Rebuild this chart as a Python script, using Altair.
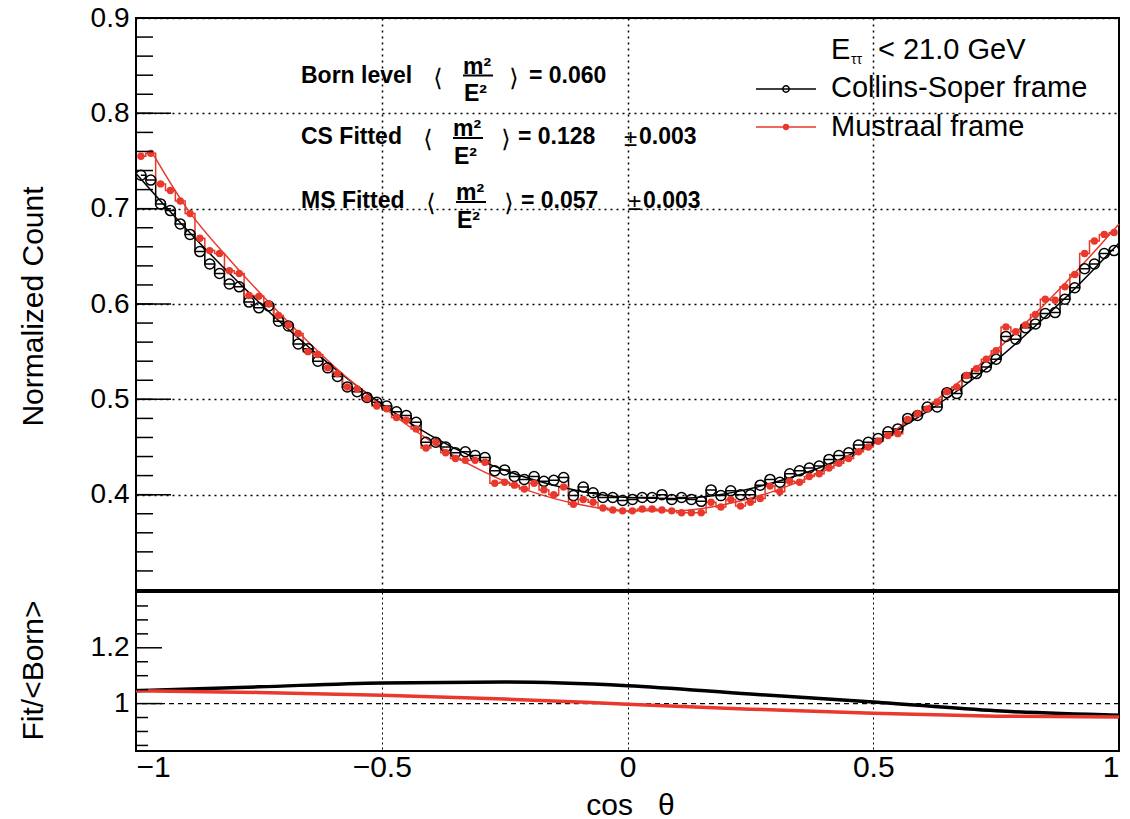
import altair as alt
import pandas as pd

# ---------------- data ----------------
n_bins = 100
cos_theta = [round(-0.99 + 0.02 * i, 2) for i in range(n_bins)]  # bin centres

cs_counts = [
    0.735, 0.730, 0.705, 0.698, 0.684, 0.673, 0.655, 0.642, 0.632, 0.621,
    0.618, 0.602, 0.596, 0.598, 0.582, 0.577, 0.558, 0.553, 0.540, 0.533,
    0.524, 0.513, 0.508, 0.502, 0.497, 0.493, 0.487, 0.483, 0.476, 0.455,
    0.455, 0.450, 0.444, 0.445, 0.441, 0.439, 0.425, 0.426, 0.419, 0.416,
    0.419, 0.414, 0.415, 0.418, 0.399, 0.408, 0.402, 0.397, 0.397, 0.394,
    0.395, 0.397, 0.397, 0.400, 0.395, 0.397, 0.395, 0.393, 0.405, 0.399,
    0.404, 0.400, 0.400, 0.410, 0.416, 0.413, 0.422, 0.425, 0.428, 0.430,
    0.437, 0.441, 0.444, 0.452, 0.455, 0.459, 0.466, 0.469, 0.480, 0.483,
    0.492, 0.492, 0.507, 0.506, 0.523, 0.527, 0.534, 0.542, 0.566, 0.563,
    0.575, 0.579, 0.590, 0.591, 0.605, 0.617, 0.637, 0.642, 0.653, 0.656,
]
ms_counts = [
    0.755, 0.758, 0.726, 0.719, 0.708, 0.695, 0.669, 0.656, 0.653, 0.635,
    0.632, 0.609, 0.608, 0.600, 0.588, 0.578, 0.569, 0.550, 0.547, 0.533,
    0.527, 0.513, 0.511, 0.501, 0.493, 0.490, 0.481, 0.478, 0.469, 0.449,
    0.455, 0.444, 0.438, 0.436, 0.436, 0.434, 0.412, 0.413, 0.410, 0.406,
    0.412, 0.405, 0.400, 0.408, 0.390, 0.395, 0.392, 0.386, 0.384, 0.383,
    0.383, 0.385, 0.385, 0.384, 0.383, 0.381, 0.381, 0.381, 0.392, 0.387,
    0.395, 0.388, 0.392, 0.396, 0.409, 0.403, 0.414, 0.413, 0.419, 0.422,
    0.428, 0.433, 0.438, 0.445, 0.450, 0.456, 0.462, 0.464, 0.479, 0.485,
    0.490, 0.497, 0.508, 0.513, 0.525, 0.532, 0.542, 0.551, 0.576, 0.571,
    0.578, 0.589, 0.605, 0.604, 0.618, 0.631, 0.653, 0.666, 0.673, 0.675,
]

cs_fit_x = [-1.0, -0.9, -0.8, -0.7, -0.6, -0.5, -0.4, -0.3, -0.2, -0.1, 0.0,
            0.1, 0.2, 0.3, 0.4, 0.5, 0.6, 0.7, 0.8, 0.9, 1.0]
cs_fit = [0.737, 0.680, 0.627, 0.578, 0.534, 0.495, 0.462, 0.436, 0.417, 0.404, 0.397,
          0.396, 0.401, 0.413, 0.430, 0.454, 0.484, 0.520, 0.563, 0.611, 0.664]
ms_fit_x = [-0.965, -0.9, -0.8, -0.7, -0.6, -0.5, -0.4, -0.3, -0.2, -0.1, 0.0,
            0.1, 0.2, 0.3, 0.4, 0.5, 0.6, 0.7, 0.8, 0.9, 1.0]
ms_fit = [0.757, 0.703, 0.641, 0.586, 0.536, 0.493, 0.456, 0.426, 0.404, 0.390, 0.383,
          0.383, 0.390, 0.404, 0.425, 0.453, 0.488, 0.529, 0.575, 0.627, 0.684]

ratio_x = [-1.0, -0.75, -0.5, -0.25, 0.0, 0.25, 0.5, 0.75, 1.0]
cs_ratio = [1.046, 1.060, 1.074, 1.077, 1.064, 1.034, 1.006, 0.974, 0.958]
ms_ratio = [1.046, 1.040, 1.030, 1.016, 0.998, 0.980, 0.965, 0.955, 0.952]

x_tick_values = [-1, -0.5, 0, 0.5, 1]
x_grid_values = [-0.5, 0, 0.5]
top_y_labels = [0.4, 0.5, 0.6, 0.7, 0.8, 0.9]
bot_y_labels = [1.0, 1.2]
top_major_ticks = [0.3, 0.4, 0.5, 0.6, 0.7, 0.8, 0.9]
top_minor_ticks = [round(0.3 + 0.02 * i, 2) for i in range(31)]
bot_major_ticks = [1.0, 1.2]
bot_minor_ticks = [0.85, 0.9, 0.95, 1.05, 1.1, 1.15, 1.25, 1.3, 1.35]

# ---------------- styling ----------------
FONT = "Liberation Sans"
RED = "#E8392C"
W, HT, HB = 983, 572, 159
YLBL = 28
XLBL = 30
TTL = 30
ANN = 23

xs = alt.Scale(domain=[-1, 1], nice=False, zero=False)
ys_top = alt.Scale(domain=[0.3, 0.9], nice=False, zero=False)
ys_bot = alt.Scale(domain=[0.83, 1.4], nice=False, zero=False)

DUMMY = alt.Data(values=[{"t": 0}])


def txt(s, x, y, size, bold=False, align="left", baseline="alphabetic", font=FONT):
    return alt.Chart(alt.Data(values=[{"t": s}])).mark_text(
        align=align, baseline=baseline, font=font, fontSize=size,
        fontWeight="bold" if bold else "normal", color="black"
    ).encode(x=alt.value(x), y=alt.value(y), text="t:N")


def hrule(x1, x2, y, color="black", width=2.0):
    return alt.Chart(DUMMY).mark_rule(color=color, strokeWidth=width).encode(
        x=alt.value(x1), x2=alt.value(x2), y=alt.value(y))


hist_cs = pd.DataFrame({"x": cos_theta, "y": cs_counts})
hist_ms = pd.DataFrame({"x": cos_theta, "y": ms_counts})
fit_cs = pd.DataFrame({"x": cs_fit_x, "y": cs_fit})
fit_ms = pd.DataFrame({"x": ms_fit_x, "y": ms_fit})

top_x_axis = alt.Axis(values=x_grid_values, labels=False, ticks=False, domain=False,
                      title=None, grid=True, gridDash=[2, 4], gridColor="black",
                      gridWidth=1.5, gridOpacity=1, minExtent=0, maxExtent=0)
top_y_axis = alt.Axis(values=top_y_labels, format=".1f", labelFont=FONT, labelFontSize=YLBL,
                      labelColor="black", labelPadding=7, ticks=False, domain=False,
                      grid=True, gridDash=[2, 4], gridColor="black", gridWidth=1.5,
                      gridOpacity=1, title="Normalized Count", titleFont=FONT,
                      titleFontSize=TTL, titleFontWeight="normal", titleColor="black",
                      titleX=-88, titleY=288, titleBaseline="bottom")

XT = alt.X("x:Q", scale=xs, axis=top_x_axis)
YT = alt.Y("y:Q", scale=ys_top, axis=top_y_axis)

step_cs = alt.Chart(hist_cs).mark_line(interpolate="step", color="black", strokeWidth=1.5).encode(
    x=XT, y=YT)
step_ms = alt.Chart(hist_ms).mark_line(interpolate="step", color=RED, strokeWidth=1.5).encode(
    x=XT, y=YT)
line_fit_cs = alt.Chart(fit_cs).mark_line(interpolate="monotone", color="black", strokeWidth=1.5).encode(
    x=XT, y=YT)
line_fit_ms = alt.Chart(fit_ms).mark_line(interpolate="monotone", color=RED, strokeWidth=1.5).encode(
    x=XT, y=YT)
pts_cs = alt.Chart(hist_cs).mark_point(shape="circle", filled=False, color="black", size=100,
                                       strokeWidth=1.5, opacity=1).encode(x=XT, y=YT)
pts_ms = alt.Chart(hist_ms).mark_circle(color=RED, size=55, opacity=1).encode(x=XT, y=YT)

ticks_top_major = alt.Chart(pd.DataFrame({"y": top_major_ticks})).mark_rule(
    color="black", strokeWidth=1.5).encode(y=YT, x=alt.value(0), x2=alt.value(35))
ticks_top_minor = alt.Chart(pd.DataFrame({"y": top_minor_ticks})).mark_rule(
    color="black", strokeWidth=1.5).encode(y=YT, x=alt.value(0), x2=alt.value(17))

# annotations (pixel positions relative to the upper plot area)
ann = []
rows = [
    ("Born level", 64.7, 302, 327, 57.5, 378, 393, "= 0.060", None, None),
    ("CS Fitted", 126.3, 292, 317, 120.0, 370, 382, "= 0.128", 488, "0.003"),
    ("MS Fitted", 189.7, 295, 320, 184.0, 373, 385, "= 0.057", 492, "0.003"),
]
for lab, yb, bx, fx, fy, rbx, vx, val, ex, err in rows:
    ann.append(txt(lab, 165, yb, ANN, bold=True))
    ann.append(txt("⟨", bx, yb - 4, 24, baseline="middle", align="center", font="DejaVu Sans"))
    ann.append(txt("m²", fx, fy - 2, ANN, bold=True))
    ann.append(hrule(fx, fx + 30, fy, width=2))
    ann.append(txt("E²", fx + 1, fy + 25.5, ANN, bold=True))
    ann.append(txt("⟩", rbx, yb - 4, 24, baseline="middle", align="center", font="DejaVu Sans"))
    ann.append(txt(val, vx, yb, ANN, bold=True))
    if err is not None:
        ann.append(txt("±", ex, yb + 2, 24))
        ann.append(txt(err, ex + 15, yb, ANN, bold=True))

# legend
legend = [
    txt("E", 695, 41, 29),
    txt("ττ", 715, 46, 14),
    txt("< 21.0 GeV", 742, 41, 29),
    hrule(620, 680, 71, color="black", width=1.5),
    alt.Chart(DUMMY).mark_point(shape="circle", filled=False, color="black", size=40,
                                strokeWidth=1.5, opacity=1).encode(
        x=alt.value(650), y=alt.value(71)),
    txt("Collins-Soper frame", 695, 79, 29),
    hrule(620, 680, 109, color=RED, width=1.5),
    alt.Chart(DUMMY).mark_circle(color=RED, size=40, opacity=1).encode(
        x=alt.value(650), y=alt.value(109)),
    txt("Mustraal frame", 695, 118, 29),
]

top = alt.layer(step_cs, step_ms, line_fit_cs, line_fit_ms, pts_cs, pts_ms,
                ticks_top_major, ticks_top_minor, *ann, *legend).properties(width=W, height=HT)

# ---------------- ratio panel ----------------
rat_cs = pd.DataFrame({"x": ratio_x, "y": cs_ratio})
rat_ms = pd.DataFrame({"x": ratio_x, "y": ms_ratio})

bot_x_axis = alt.Axis(values=x_tick_values, format="~g", labelFont=FONT, labelFontSize=XLBL,
                      labelColor="black", labelPadding=1, ticks=False, domain=False,
                      grid=True, gridDash=[2, 3], gridColor="black", gridWidth=1, gridOpacity=1,
                      title="cos\u00a0\u00a0\u00a0θ", titleFont=FONT, titleFontSize=TTL,
                      titleFontWeight="normal", titleColor="black", titleX=494, titleY=63,
                      titleBaseline="alphabetic")
bot_y_axis = alt.Axis(values=bot_y_labels, format="~g", labelFont=FONT, labelFontSize=YLBL,
                      labelColor="black", labelPadding=7, ticks=False, domain=False, grid=False,
                      title="Fit/<Born>", titleFont=FONT, titleFontSize=TTL,
                      titleFontWeight="normal", titleColor="black",
                      titleX=-88, titleY=78, titleBaseline="bottom")

XB = alt.X("x:Q", scale=xs, axis=bot_x_axis)
YB = alt.Y("y:Q", scale=ys_bot, axis=bot_y_axis)

bot_cs = alt.Chart(rat_cs).mark_line(interpolate="monotone", color="black", strokeWidth=3.5).encode(
    x=XB, y=YB)
bot_ms = alt.Chart(rat_ms).mark_line(interpolate="monotone", color=RED, strokeWidth=3.5).encode(
    x=XB, y=YB)
one_line = alt.Chart(pd.DataFrame({"y": [1.0]})).mark_rule(
    color="black", strokeWidth=1.2, strokeDash=[5, 4]).encode(y=YB)
ticks_bot_major = alt.Chart(pd.DataFrame({"y": bot_major_ticks})).mark_rule(
    color="black", strokeWidth=1.5).encode(y=YB, x=alt.value(0), x2=alt.value(26))
ticks_bot_minor = alt.Chart(pd.DataFrame({"y": bot_minor_ticks})).mark_rule(
    color="black", strokeWidth=1.5).encode(y=YB, x=alt.value(0), x2=alt.value(12))

bottom = alt.layer(bot_cs, one_line, bot_ms, ticks_bot_major, ticks_bot_minor).properties(
    width=W, height=HB)

chart = alt.vconcat(top, bottom, spacing=-4).properties(
    padding={"left": 17, "top": 3, "right": 3, "bottom": 0},
    background="white",
).configure_view(stroke="black", strokeWidth=2)

chart.save("out.html", embed_options={"renderer": "svg", "actions": False})
